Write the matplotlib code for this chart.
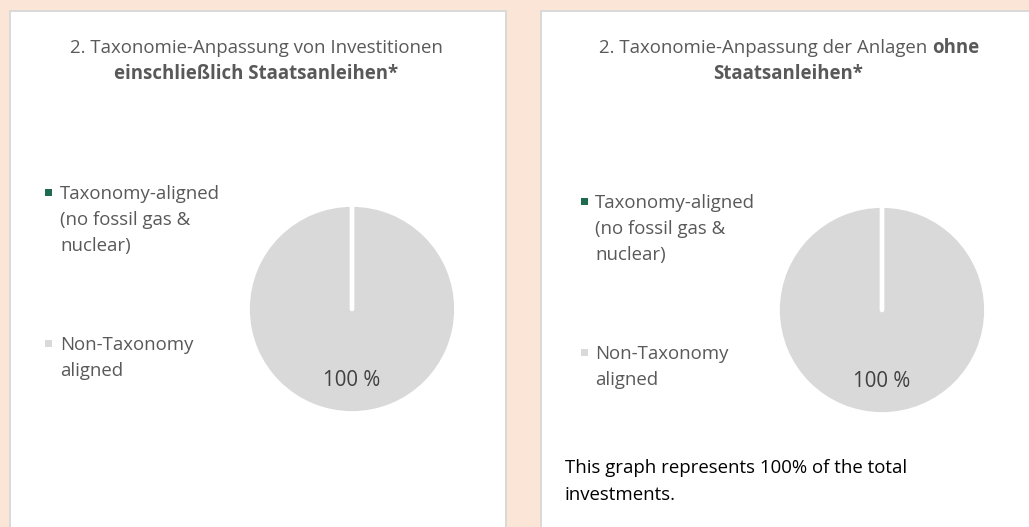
import matplotlib
matplotlib.use("Agg")
import matplotlib.pyplot as plt
from matplotlib.patches import Rectangle

# ---- data ----
categories = ["Taxonomy-aligned\n(no fossil gas &\nnuclear)", "Non-Taxonomy\naligned"]
values_incl = [0, 100]   # including sovereign bonds
values_excl = [0, 100]   # excluding sovereign bonds
colors = ["#1E6B4F", "#D9D9D9"]
title_incl = ("2. Taxonomie-Anpassung von Investitionen", "einschließlich Staatsanleihen*")
title_excl_l1 = ("2. Taxonomie-Anpassung der Anlagen ", "ohne")
title_excl_l2 = "Staatsanleihen*"
footnote = ["This graph represents 100% of the total", "investments."]

W, H = 1029, 527
DPI = 100
plt.rcParams['font.family'] = ['Open Sans', 'DejaVu Sans']

fig = plt.figure(figsize=(W / DPI, H / DPI), dpi=DPI)
fig.patch.set_facecolor("#FBE5D6")

def fx(x):
    return x / W

def fy(y):
    return 1 - y / H

def ptext(x, y, s, **kw):
    return fig.text(fx(x), fy(y), s, va="baseline", **kw)

# panels
for (x0, x1) in [(10, 506), (541, 1040)]:
    fig.patches.append(Rectangle((fx(x0), fy(540)), fx(x1 - x0), (540 - 11) / H,
                                 transform=fig.transFigure, facecolor="white",
                                 edgecolor="#D9D9D9", linewidth=1.4, zorder=-5))

TXT = "#595959"
FS = 13.4

def legend(x_sq, x_txt, base_y, vals):
    offsets = [0, 151]
    for i, (cat, col) in enumerate(zip(categories, colors)):
        by = base_y + offsets[i]
        fig.patches.append(Rectangle((fx(x_sq), fy(by - 3)), 7 / W, 7 / H,
                                     transform=fig.transFigure, facecolor=col,
                                     edgecolor="none", zorder=3))
        for j, line in enumerate(cat.split("\n")):
            ptext(x_txt, by + 26 * j, line, fontsize=FS, color=TXT)

def pie(cx, cy, r, vals, label_base):
    ax = fig.add_axes([fx(cx - r), fy(cy + r), 2 * r / W, 2 * r / H], zorder=2)
    wedges, _ = ax.pie(vals, colors=colors, startangle=90, counterclock=False, radius=1.0,
                       wedgeprops=dict(edgecolor="white", linewidth=3.4, joinstyle="round",
                                       capstyle="round"))
    # zero-size slices are drawn on top so their white border shows as a separator
    for w, v in zip(wedges, vals):
        if v == 0:
            w.set_zorder(5)
    ax.set_xlim(-1.0, 1.0)
    ax.set_ylim(-1.0, 1.0)
    ax.set_axis_off()
    for v in vals:
        if v > 0:
            ptext(cx, label_base, f"{v:.0f} %", fontsize=14.8, color="#404040",
                  ha="center", zorder=5)

# left panel
ptext(256, 53, title_incl[0], fontsize=FS, color=TXT, ha="center")
ptext(256, 79, title_incl[1], fontsize=FS, color=TXT, ha="center", fontweight="bold")
legend(45, 60, 199, values_incl)
pie(352, 309, 104.5, values_incl, 386)

# right panel
t1 = ptext(788, 53, title_excl_l1[0] + title_excl_l1[1], fontsize=FS, color=TXT,
           ha="center", alpha=0)
fig.canvas.draw()
bb = t1.get_window_extent()
a = fig.text(bb.x0 / W, fy(53), title_excl_l1[0], fontsize=FS, color=TXT, va="baseline")
fig.canvas.draw()
bb2 = a.get_window_extent()
fig.text(bb2.x1 / W, fy(53), title_excl_l1[1], fontsize=FS, color=TXT, va="baseline",
         fontweight="bold")
ptext(788, 79, title_excl_l2, fontsize=FS, color=TXT, ha="center", fontweight="bold")
legend(581, 595, 208, values_excl)
pie(882, 310, 104.5, values_excl, 387)

for j, line in enumerate(footnote):
    ptext(565, 473 + 27 * j, line, fontsize=FS, color="#000000")

fig.savefig("out.png", dpi=DPI, facecolor=fig.get_facecolor())
